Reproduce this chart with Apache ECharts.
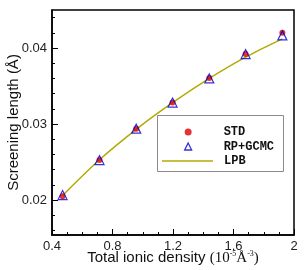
<!DOCTYPE html>
<html><head><meta charset="utf-8">
<script src="https://cdn.jsdelivr.net/npm/echarts@6/dist/echarts.min.js"></script>
<style>html,body{margin:0;padding:0;background:#fff}#c{width:307px;height:270px}</style>
</head><body><div id="c"></div>
<script>
const density = [0.47, 0.714, 0.957, 1.197, 1.44, 1.68, 1.923];
const stdVals = [0.0205, 0.02526, 0.02939, 0.03282, 0.03604, 0.0392, 0.0420];
const rpgcmcVals = [0.02065, 0.02526, 0.02939, 0.03282, 0.03600, 0.0392, 0.04166];
const lpbVals = [0.0206, 0.0253, 0.0293, 0.0328, 0.0360, 0.0388, 0.0412];
const xTicks = [0.4, 0.8, 1.2, 1.6, 2];
const yTicks = [0.02, 0.03, 0.04];
const yMinorTicks = [0.016, 0.018, 0.022, 0.024, 0.026, 0.028, 0.032, 0.034, 0.036, 0.038, 0.042, 0.044];

const pair = (xs, ys) => xs.map((x, i) => [x, ys[i]]);
const chart = echarts.init(document.getElementById('c'), null, {renderer: 'canvas'});
const lab = {color: '#222', fontFamily: 'Liberation Sans, Arial, sans-serif', fontSize: 13};
const legendText = {fontFamily: 'Liberation Mono, Courier New, monospace', fontWeight: 'bold', fontSize: 12, color: '#111', lineHeight: 12};
const olive = '#b3aa00';
chart.setOption({
  animation: false,
  grid: {left: 52, right: 13, top: 10, bottom: 35, show: true, borderColor: '#000', borderWidth: 1.5,
         containLabel: false, outerBoundsMode: 'none'},
  xAxis: {
    type: 'value', min: xTicks[0], max: xTicks[xTicks.length - 1], interval: 0.4,
    axisLine: {lineStyle: {color: '#000', width: 1.5}},
    axisTick: {inside: true, length: 6, lineStyle: {color: '#000'}},
    minorTick: {show: true, splitNumber: 4, length: 3, lineStyle: {color: '#000'}},
    splitLine: {show: false},
    axisLabel: Object.assign({margin: 5, formatter: v => String(+(+v).toFixed(2))}, lab),
    name: '{a|Total ionic density }{b|(10}{s|-5}{b|Å}{s|-3}{b|)}',
    nameLocation: 'middle', nameGap: 15, nameMoveOverlap: false,
    nameTextStyle: {rich: {
      a: {fontSize: 15, fontFamily: 'Liberation Sans, Arial, sans-serif', color: '#111'},
      b: {fontSize: 15, fontFamily: 'Liberation Serif, Times New Roman, serif', color: '#111'},
      s: {fontSize: 8, fontFamily: 'Liberation Serif, Times New Roman, serif', color: '#111', padding: [0, 0, 8, 0]}
    }}
  },
  yAxis: [{
    type: 'value', min: 0.0154, max: 0.045,
    axisLine: {show: true, lineStyle: {color: '#000', width: 1.5}},
    axisTick: {show: true, inside: true, length: 6, customValues: yTicks, lineStyle: {color: '#000'}},
    splitLine: {show: false},
    axisLabel: Object.assign({margin: 5, customValues: yTicks, formatter: v => (+v).toFixed(2)}, lab),
    name: 'Screening length (Å)', nameLocation: 'middle', nameGap: 31, nameMoveOverlap: false,
    nameTextStyle: {fontSize: 15, fontFamily: 'Liberation Sans, Arial, sans-serif', color: '#111'}
  }, {
    type: 'value', min: 0.0154, max: 0.045, position: 'left', offset: 0,
    axisLine: {show: false}, axisLabel: {show: false}, splitLine: {show: false},
    axisTick: {show: true, inside: true, length: 3, customValues: yMinorTicks, lineStyle: {color: '#000'}}
  }],
  graphic: [{
    type: 'rect', left: 157, top: 115, z: 3,
    shape: {width: 126, height: 56},
    style: {fill: '#fff', stroke: '#8a8a8a', lineWidth: 1}
  }],
  legend: [{
    orient: 'vertical', left: 184, top: 126, padding: 0, z: 5,
    itemWidth: 7, itemHeight: 7, itemGap: 2.5,
    textStyle: Object.assign({padding: [0, 0, 0, 27]}, legendText),
    data: [
      {name: 'STD', icon: 'circle', itemStyle: {color: '#dd0000', borderWidth: 0}},
      {name: 'RP+GCMC', icon: 'triangle', itemStyle: {color: 'rgba(0,0,0,0)', borderColor: '#0000cc', borderWidth: 1.3}}
    ]
  }, {
    orient: 'vertical', left: 162, top: 155, padding: 0, z: 5,
    itemWidth: 51, itemHeight: 1.5, symbolKeepAspect: false,
    textStyle: Object.assign({padding: [0, 0, 0, 6]}, legendText),
    data: [{name: 'LPB', icon: 'rect', itemStyle: {color: olive, borderWidth: 0}}]
  }],
  series: [
    {name: 'STD', type: 'scatter', data: pair(density, stdVals), symbol: 'circle', symbolSize: 6,
     itemStyle: {color: '#dd0000'}, z: 2},
    {name: 'RP+GCMC', type: 'scatter', data: pair(density, rpgcmcVals), symbol: 'triangle', symbolSize: 9,
     itemStyle: {color: 'rgba(0,0,0,0)', borderColor: '#0000cc', borderWidth: 1.2}, z: 2},
    {name: 'LPB', type: 'line', data: pair(density, lpbVals), symbol: 'none', smooth: 0.3,
     lineStyle: {color: olive, width: 1.5}, itemStyle: {color: olive}, z: 2}
  ]
});
</script></body></html>
